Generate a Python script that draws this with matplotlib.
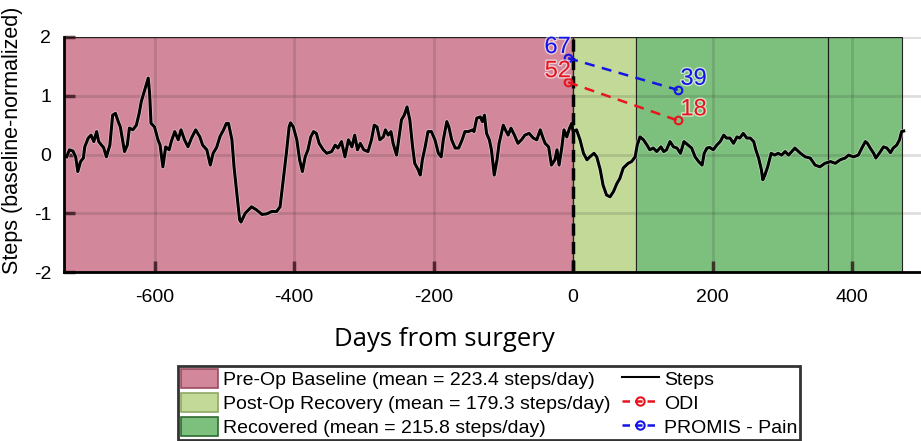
import matplotlib
matplotlib.use('Agg')
import matplotlib.pyplot as plt
import matplotlib.patheffects as pe
from matplotlib.patches import Patch
from matplotlib.lines import Line2D

# days from surgery vs baseline-normalized steps
days = [-726, -722, -717, -713, -710, -706, -702, -700, -695, -691, -687, -683, -680, -676, -673,
        -669, -664, -660, -656, -652, -649, -645, -643, -639, -636, -631, -626, -622, -619, -614,
        -609, -607, -605, -600, -595, -592, -588, -584, -579, -576, -571, -566, -562, -557, -552,
        -547, -541, -535, -531, -525, -520, -516, -511, -506, -501, -497, -494, -489, -486, -482,
        -478, -476, -470, -461, -454, -446, -439, -432, -425, -420, -415, -411, -407, -405, -401,
        -396, -392, -388, -384, -380, -376, -372, -368, -364, -358, -353, -346, -341, -337, -332,
        -327, -322, -317, -313, -309, -305, -300, -294, -289, -285, -281, -277, -272, -269, -265,
        -261, -258, -253, -250, -246, -242, -238, -236, -234, -230, -227, -222, -219, -216, -212,
        -208, -203, -198, -193, -189, -186, -181, -178, -174, -169, -164, -159, -155, -150, -144,
        -142, -138, -133, -130, -127, -124, -120, -117, -113, -109, -106, -100, -97, -93, -89,
        -84, -79, -74, -69, -63, -57, -52, -47, -43, -40, -35, -31, -26, -23, -20, -16, -13, -9,
        -5, -2, 0, 5, 10, 15, 20, 24, 30, 34, 39, 43, 48, 53, 58, 63, 67, 72, 79, 84, 89, 92, 96,
        101, 106, 110, 115, 120, 126, 130, 134, 139, 144, 149, 154, 159, 165, 170, 175, 180, 185,
        188, 192, 196, 201, 206, 211, 216, 220, 225, 230, 235, 239, 244, 249, 254, 259, 262, 266,
        270, 272, 275, 279, 284, 289, 294, 299, 304, 309, 318, 326, 333, 340, 347, 354, 361, 369,
        376, 383, 390, 395, 402, 409, 414, 419, 422, 426, 431, 434, 439, 445, 450, 455, 459, 464,
        468, 471, 474]
steps = [-0.04, 0.08, 0.06, -0.04, -0.29, -0.12, -0.06, 0.13, 0.28, 0.33, 0.22, 0.39, 0.22, 0.16, 0.12,
         -0.04, 0.16, 0.67, 0.70, 0.56, 0.47, 0.19, 0.05, 0.16, 0.45, 0.42, 0.50, 0.70, 0.90, 1.10,
         1.30, 1.04, 0.53, 0.47, 0.25, 0.16, -0.21, 0.13, 0.08, 0.22, 0.39, 0.25, 0.42, 0.25, 0.13,
         0.28, 0.42, 0.30, 0.16, 0.08, -0.18, 0.02, 0.12, 0.31, 0.42, 0.53, 0.53, 0.25, -0.21, -0.66,
         -1.11, -1.15, -1.00, -0.89, -0.94, -1.02, -1.01, -0.97, -0.97, -0.89, -0.38, 0.02, 0.47, 0.54, 0.47,
         0.25, -0.09, -0.29, -0.04, 0.08, 0.30, 0.39, 0.36, 0.19, 0.08, 0.02, 0.05, 0.16, 0.11, 0.22,
         -0.04, 0.25, 0.13, 0.33, 0.08, 0.19, 0.08, 0.05, 0.25, 0.50, 0.47, 0.25, 0.30, 0.42, 0.33,
         0.39, 0.19, -0.01, 0.25, 0.59, 0.67, 0.81, 0.70, 0.59, 0.13, -0.15, -0.26, -0.35, -0.09, 0.13,
         0.39, 0.39, 0.25, 0.02, -0.04, 0.25, 0.56, 0.47, 0.25, 0.11, 0.11, 0.25, 0.39, 0.39, 0.42,
         0.39, 0.62, 0.64, 0.56, 0.67, 0.36, 0.25, 0.08, -0.35, -0.09, 0.19, 0.50, 0.42, 0.33, 0.45,
         0.33, 0.19, 0.25, 0.33, 0.36, 0.28, 0.25, 0.42, 0.28, 0.19, 0.13, -0.18, -0.09, 0.08, -0.18, 0.13, 0.42, 0.30,
         0.45, 0.53, 0.39, 0.42, 0.25, 0.02, -0.09, -0.04, 0.02, -0.04, -0.26, -0.52, -0.69, -0.72, -0.63, -0.49, -0.41, -0.23, -0.15, -0.12, -0.04, 0.16, 0.30,
         0.25, 0.16, 0.08, 0.11, 0.05, 0.13, 0.05, 0.08, 0.22, 0.13, 0.11, 0.02, 0.22, 0.16, 0.11, -0.04, -0.12,
         -0.18, 0.02, 0.11, 0.12, 0.08, 0.16, 0.22, 0.33, 0.28, 0.28, 0.19, 0.30, 0.28, 0.36, 0.28, 0.28, 0.22, 0.08, -0.06,
         -0.26, -0.43, -0.35, -0.21, 0.02, -0.01, 0.02, -0.01, 0.05, -0.01, 0.11, 0.02, -0.04, -0.06, -0.18, -0.21, -0.15, -0.12,
         -0.15, -0.09, -0.06, -0.01, -0.04, -0.01, 0.11, 0.22, 0.19, 0.11, 0.02, -0.06, 0.02, 0.13, 0.11, 0.03, 0.11, 0.16,
         0.25, 0.39, 0.40]

# survey scores: first point before surgery, second at follow-up
survey_days = [-7, 150]
odi_y = [1.23, 0.58]
odi_labels = ['52', '18']
promis_y = [1.64, 1.10]
promis_labels = ['67', '39']

# phases (start day, end day)
phase_names = ['Pre-Op Baseline (mean = 223.4 steps/day)',
               'Post-Op Recovery (mean = 179.3 steps/day)',
               'Recovered (mean = 215.8 steps/day)']
phase_bounds = [(-730, 0), (0, 90), (90, 471)]
phase_colors = ['#d2879a', '#c2d998', '#7dc07d']
phase_edges = ['#9a4b5e', '#8fa866', '#2f6a2f']
one_year = 365

plt.rcParams['font.family'] = ['Liberation Sans Narrow', 'Liberation Sans', 'DejaVu Sans']
plt.rcParams['axes.unicode_minus'] = False

fig = plt.figure(figsize=(9.21, 4.41), dpi=100)
ax = fig.add_axes([0.0693, 0.3832, 0.9316, 0.5329])

for (a, b), fc in zip(phase_bounds, phase_colors):
    ax.axvspan(a, b, facecolor=fc, edgecolor='#222222', lw=0.8, zorder=0.5)

ax.axvline(one_year, color='#1a1a1a', lw=0.9, zorder=1)

ax.set_xlim(-730, 500)
ax.set_ylim(-2, 2)
ax.set_xticks([-600, -400, -200, 0, 200, 400])
ax.set_yticks([-2, -1, 0, 1, 2])
ax.set_axisbelow(False)
ax.grid(True, color='#262626', alpha=0.15, lw=2)

ax.plot(days, steps, color='black', lw=2.2, zorder=3,
        path_effects=[pe.Stroke(linewidth=3.2, foreground='white', alpha=0.5), pe.Normal()])
ax.axvline(0, color='black', lw=2.5, ls=(0, (3.5, 1.8)), zorder=3)

ax.plot(survey_days, odi_y, color='#e8141e', ls=(0, (4, 3)), lw=1.8, marker='o', ms=5.5,
        mfc='none', mew=1.5, zorder=4)
ax.plot(survey_days, promis_y, color='#1414e6', ls=(0, (4, 3)), lw=1.8, marker='o', ms=5.5,
        mfc='none', mew=1.5, zorder=4)

halo = [pe.withStroke(linewidth=2, foreground='white', alpha=0.6)]
for ys, labs, col in [(odi_y, odi_labels, '#e8141e'), (promis_y, promis_labels, '#1414e6')]:
    ax.annotate(labs[0], (survey_days[0], ys[0]), xytext=(2, 8), textcoords='offset points',
                ha='right', va='center', color=col, fontsize=17, zorder=5, path_effects=halo)
    ax.annotate(labs[1], (survey_days[1], ys[1]), xytext=(2, 8), textcoords='offset points',
                ha='left', va='center', color=col, fontsize=17, zorder=5, path_effects=halo)

for side in ['top', 'right']:
    ax.spines[side].set_visible(False)
for side in ['left', 'bottom']:
    ax.spines[side].set_linewidth(2)
    ax.spines[side].set_zorder(4)
ax.tick_params(direction='in', length=8, width=2.5, labelsize=14, color='#2b0b12')
ax.tick_params(axis='x', pad=12)
ax.tick_params(axis='y', pad=9)
for t in ax.xaxis.get_ticklines() + ax.yaxis.get_ticklines():
    t.set_alpha(0.75)

ax.set_ylabel('Steps (baseline-normalized)', fontsize=15.5, family=['Liberation Sans', 'DejaVu Sans'])
ax.yaxis.set_label_coords(-0.048, 0.56)
ax.set_xlabel('Days from surgery', fontsize=18.5, family=['Open Sans', 'DejaVu Sans'])
ax.xaxis.set_label_coords(0.443, -0.235)

handles = [Patch(facecolor=fc, edgecolor=ec, lw=1.2) for fc, ec in zip(phase_colors, phase_edges)]
handles += [Line2D([], [], color='black', lw=1.5),
            Line2D([], [], color='#e8141e', ls=(0, (3, 2)), lw=1.8, marker='o', ms=6, mfc='none', mew=1.5),
            Line2D([], [], color='#1414e6', ls=(0, (3, 2)), lw=1.8, marker='o', ms=6, mfc='none', mew=1.5)]
labels = phase_names + ['Steps', 'ODI', 'PROMIS - Pain']
leg = fig.legend(handles, labels, ncol=2, loc='upper left', bbox_to_anchor=(178 / 921, 1 - 366 / 441),
                 borderaxespad=0, fontsize=14, frameon=True, fancybox=False, handlelength=1.9,
                 handleheight=1.1, handletextpad=0.25, columnspacing=0.6, labelspacing=0.22,
                 borderpad=0.15)
leg.get_frame().set_edgecolor('black')
leg.get_frame().set_linewidth(2)

fig.savefig('out.png', dpi=100)
